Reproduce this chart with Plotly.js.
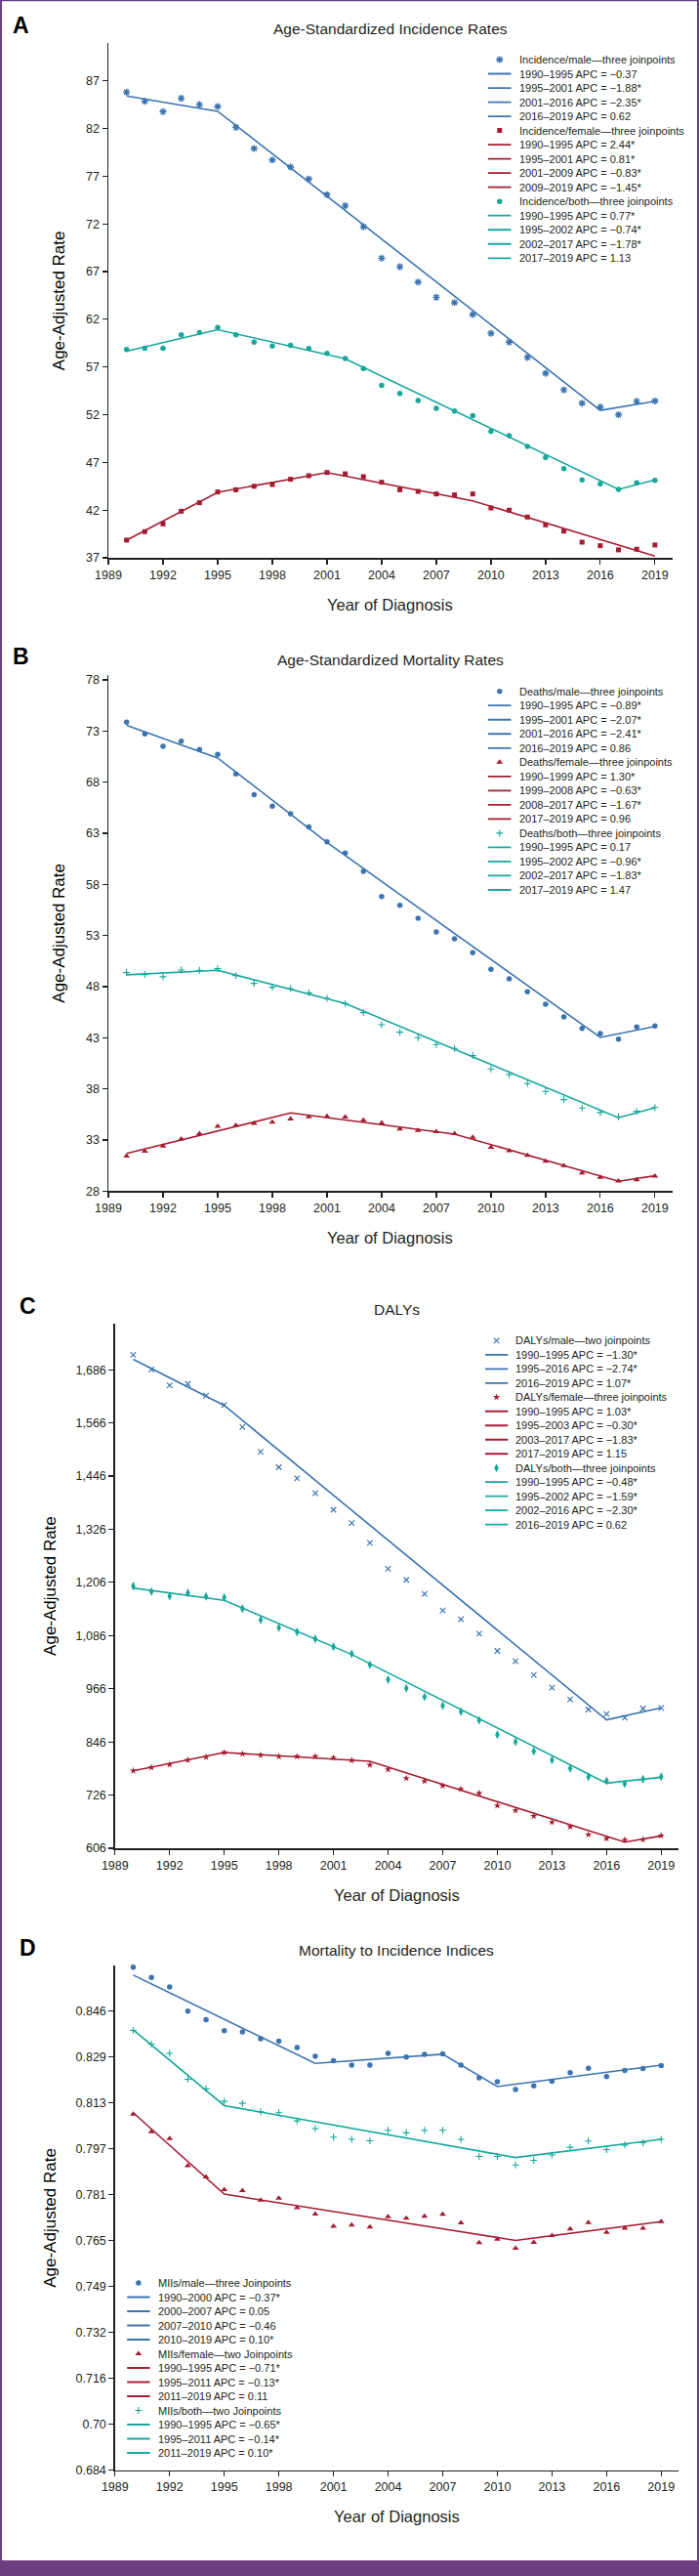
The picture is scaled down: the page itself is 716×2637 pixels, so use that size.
<!DOCTYPE html>
<html><head><meta charset="utf-8">
<script src="https://cdn.plot.ly/plotly-3.0.1.min.js"></script>
<style>html,body{margin:0;padding:0;background:#fff}#chart{width:716px;height:2637px}</style>
</head><body><div id="chart"></div>
<script>
// ---------- data ----------
const years = [1990,1991,1992,1993,1994,1995,1996,1997,1998,1999,2000,2001,2002,2003,2004,2005,2006,2007,2008,2009,2010,2011,2012,2013,2014,2015,2016,2017,2018,2019];
const xTickStart = 1989, xTickStep = 3;

// A: incidence
const incMale = [85.8,84.85,83.76,85.16,84.5,84.3,82.12,79.9,78.7,77.96,76.7,75.06,73.9,71.7,68.4,67.5,65.9,64.3,63.75,62.5,60.53,59.6,58.0,56.33,54.6,53.2,52.8,52.0,53.4,53.43];
const incMaleFitYears = [1990,1995,2001,2016,2019];
const incMaleFit = [85.4,83.8,74.9,52.45,53.4];
const incMaleAPC = ['\u22120.37','\u22121.88*','\u22122.35*','0.62'];
const incFemale = [38.85,39.74,40.55,41.88,42.77,43.9,44.13,44.5,44.68,45.23,45.6,45.94,45.8,45.5,44.92,44.13,43.96,43.69,43.59,43.69,42.22,41.99,41.27,40.45,39.8,38.64,38.27,37.83,37.9,38.34];
const incFemaleFitYears = [1990,1995,2001,2009,2019];
const incFemaleFit = [38.85,43.86,45.94,42.97,37.17];
const incFemaleAPC = ['2.44*','0.81*','\u22120.83*','\u22121.45*'];
const incBoth = [58.83,58.97,58.97,60.36,60.6,61.15,60.36,59.6,59.2,59.27,58.93,58.42,57.9,56.85,55.08,54.23,53.48,52.66,52.39,51.91,50.27,49.79,48.67,47.51,46.35,45.16,44.75,44.17,44.85,45.12];
const incBothFitYears = [1990,1995,2002,2017,2019];
const incBothFit = [58.66,60.91,57.87,44.17,45.16];
const incBothAPC = ['0.77*','\u22120.74*','\u22121.78*','1.13'];

// B: mortality
const deathMale = [73.86,72.71,71.5,72.01,71.18,70.71,68.8,66.76,65.64,64.91,63.61,62.17,61.06,59.27,56.82,55.96,54.69,53.35,52.68,51.31,49.69,48.76,47.49,46.28,45.04,43.92,43.41,42.87,44.05,44.15];
const deathMaleFitYears = [1990,1995,2001,2016,2019];
const deathMaleFit = [73.54,70.36,62.1,43.03,44.11];
const deathMaleAPC = ['\u22120.89*','\u22122.07*','\u22122.41*','0.86'];
const deathFemale = [31.41,31.89,32.4,33.1,33.61,34.34,34.43,34.62,34.75,35.04,35.26,35.32,35.23,34.94,34.66,34.08,33.92,33.8,33.61,33.25,32.27,31.95,31.5,30.93,30.48,29.78,29.34,28.99,29.11,29.46];
const deathFemaleFitYears = [1990,1999,2008,2017,2019];
const deathFemaleFit = [31.69,35.64,33.57,28.96,29.5];
const deathFemaleAPC = ['1.30*','\u22120.63*','\u22121.67*','0.96'];
const deathBoth = [49.37,49.18,48.96,49.62,49.59,49.75,49.08,48.32,47.94,47.81,47.39,46.85,46.34,45.45,44.27,43.54,43.0,42.33,41.95,41.25,39.94,39.4,38.51,37.75,36.95,36.12,35.68,35.26,35.8,36.18];
const deathBothFitYears = [1990,1995,2002,2017,2019];
const deathBothFit = [49.15,49.59,46.34,35.17,36.15];
const deathBothAPC = ['0.17','\u22120.96*','\u22121.83*','1.47'];

// C: DALYs
const dalyMale = [1719.7,1686.7,1650.9,1653.8,1627.5,1606.2,1556.5,1500.9,1465.8,1440.9,1407.2,1369.9,1339.9,1295.3,1236.7,1211.8,1180,1142.6,1122.8,1090.4,1051.4,1027.9,997,968.4,941.9,919.1,908.8,900.7,921.3,922.8];
const dalyMaleFitYears = [1990,1995,2016,2019];
const dalyMaleFit = [1709.4,1605.5,895.6,922.8];
const dalyMaleAPC = ['\u22121.30*','\u22122.74*','1.07*'];
const dalyFemale = [780.9,788.2,794.8,805.1,811.7,822,819,816.1,813.2,813.2,813.2,810.3,804.4,794.1,783.8,763.9,757.3,747,739.7,730.1,702.2,691.1,678.6,664.7,654.4,636.7,627.9,625,625.7,634.5];
const dalyFemaleFitYears = [1990,1995,2003,2017,2019];
const dalyFemaleFit = [780.9,822,802.2,619.8,633.8];
const dalyFemaleAPC = ['1.03*','\u22120.30*','\u22121.83*','1.15'];
const dalyBoth = [1197.8,1185.3,1175,1182.4,1174.2,1172,1147,1121.3,1103.6,1094.1,1078.6,1061,1044.8,1019.8,986.7,966.9,947.8,927.9,914,894.8,862.5,846.3,825,805.1,786,766.9,758.1,751.5,761.8,767.6];
const dalyBothFitYears = [1990,1995,2002,2016,2019];
const dalyBothFit = [1193.4,1165.4,1043.4,752.9,766.1];
const dalyBothAPC = ['\u22120.48*','\u22121.59*','\u22122.30*','0.62'];

// D: mortality to incidence indices
const miiMale = [0.8613,0.8577,0.8543,0.8458,0.8428,0.8389,0.8385,0.8361,0.8352,0.833,0.8299,0.8283,0.8268,0.8268,0.8309,0.8296,0.8306,0.8307,0.8268,0.8223,0.8209,0.8182,0.8195,0.8211,0.8241,0.8257,0.8227,0.8249,0.8256,0.8266];
const miiMaleFitYears = [1990,2000,2007,2010,2019];
const miiMaleFit = [0.8585,0.8274,0.8306,0.8192,0.8268];
const miiMaleAPC = ['\u22120.37*','0.05','\u22120.46','0.10*'];
const miiFemale = [0.8095,0.8033,0.8009,0.7913,0.7874,0.7829,0.7825,0.7792,0.7799,0.7765,0.7743,0.77,0.7704,0.7697,0.7733,0.7728,0.7735,0.7742,0.7712,0.7642,0.7654,0.7622,0.7643,0.7667,0.769,0.7713,0.7678,0.7693,0.7693,0.7716];
const miiFemaleFitYears = [1990,1995,2011,2019];
const miiFemaleFit = [0.81,0.7813,0.765,0.7716];
const miiFemaleAPC = ['\u22120.71*','\u22120.13*','0.11'];
const miiBoth = [0.839,0.8342,0.8309,0.8218,0.8184,0.814,0.8133,0.8103,0.81,0.8071,0.8044,0.8014,0.8006,0.8001,0.8038,0.8029,0.8038,0.8038,0.8006,0.7946,0.7946,0.7916,0.7932,0.7951,0.7978,0.8,0.797,0.7986,0.7994,0.8006];
const miiBothFitYears = [1990,1995,2011,2019];
const miiBothFit = [0.8392,0.8125,0.7942,0.8006];
const miiBothAPC = ['\u22120.65*','\u22120.14*','0.10*'];
const miiTickVals = [0.684,0.7002,0.7164,0.7326,0.7488,0.765,0.7812,0.7974,0.8136,0.8298,0.846];
const miiTickText = ['0.684','0.70','0.716','0.732','0.749','0.765','0.781','0.797','0.813','0.829','0.846'];

// ---------- styles ----------
const W = 716, H = 2637;
const BLUE = '#3b74b1', RED = '#a51c32', TEAL = '#17a79b', INK = '#231f20', PURPLE = '#6c3f7e';
const FONT = '"Liberation Sans", Arial, Helvetica, sans-serif';
const fx = px => px / W;
const fy = px => 1 - px / H;

const mk = {
  asterisk: c => ({symbol:'asterisk-open', size:6, color:c, line:{width:1.4, color:c}}),
  square: c => ({symbol:'square', size:5, color:c}),
  circle: c => ({symbol:'circle', size:5.5, color:c}),
  tri: c => ({symbol:'triangle-up', size:6, color:c}),
  cross: c => ({symbol:'cross-thin-open', size:5, color:c, line:{width:1.1, color:c}}),
  x: c => ({symbol:'x-thin-open', size:5.5, color:c, line:{width:1.2, color:c}}),
  star: c => ({symbol:'star', size:5.5, color:c}),
  diamond: c => ({symbol:'diamond-tall', size:6.5, color:c})
};

const panels = [
  {letter:'A', title:'Age-Standardized Incidence Rates',
   plot:{x0:111, x1:688.6, y0:44, y1:571}, yr:[37,90.96], ytick:{tickmode:'linear', tick0:37, dtick:5},
   letter_xy:[21.5,26.5], titleY:30, xTitleY:619, yTitleX:60.7,
   leg:{x:500, first:61, step:14.52},
   series:[
     {name:'Incidence/male\u2014three joinpoints', y:incMale, fy:incMaleFitYears, fv:incMaleFit, apc:incMaleAPC, color:BLUE, marker:mk.asterisk(BLUE)},
     {name:'Incidence/female\u2014three joinpoints', y:incFemale, fy:incFemaleFitYears, fv:incFemaleFit, apc:incFemaleAPC, color:RED, marker:mk.square(RED)},
     {name:'Incidence/both\u2014three joinpoints', y:incBoth, fy:incBothFitYears, fv:incBothFit, apc:incBothAPC, color:TEAL, marker:mk.circle(TEAL)}
   ]},
  {letter:'B', title:'Age-Standardized Mortality Rates',
   plot:{x0:111, x1:688.6, y0:690.7, y1:1219.3}, yr:[28,78.5], ytick:{tickmode:'linear', tick0:28, dtick:5},
   letter_xy:[21.5,672], titleY:675.7, xTitleY:1267, yTitleX:60.7,
   leg:{x:500, first:707.7, step:14.52},
   series:[
     {name:'Deaths/male\u2014three joinpoints', y:deathMale, fy:deathMaleFitYears, fv:deathMaleFit, apc:deathMaleAPC, color:BLUE, marker:mk.circle(BLUE)},
     {name:'Deaths/female\u2014three joinpoints', y:deathFemale, fy:deathFemaleFitYears, fv:deathFemaleFit, apc:deathFemaleAPC, color:RED, marker:mk.tri(RED)},
     {name:'Deaths/both\u2014three joinpoints', y:deathBoth, fy:deathBothFitYears, fv:deathBothFit, apc:deathBothAPC, color:TEAL, marker:mk.cross(TEAL)}
   ]},
  {letter:'C', title:'DALYs',
   plot:{x0:117.8, x1:695, y0:1355, y1:1892}, yr:[606,1790], ytick:{tickmode:'linear', tick0:606, dtick:120, tickformat:',d'},
   letter_xy:[28.3,1336.7], titleY:1340, xTitleY:1940, yTitleX:51.4,
   leg:{x:496.8, first:1372.3, step:14.49},
   series:[
     {name:'DALYs/male\u2014two joinpoints', y:dalyMale, fy:dalyMaleFitYears, fv:dalyMaleFit, apc:dalyMaleAPC, color:BLUE, marker:mk.x(BLUE)},
     {name:'DALYs/female\u2014three joinpoints', y:dalyFemale, fy:dalyFemaleFitYears, fv:dalyFemaleFit, apc:dalyFemaleAPC, color:RED, marker:mk.star(RED)},
     {name:'DALYs/both\u2014three joinpoints', y:dalyBoth, fy:dalyBothFitYears, fv:dalyBothFit, apc:dalyBothAPC, color:TEAL, marker:mk.diamond(TEAL)}
   ]},
  {letter:'D', title:'Mortality to Incidence Indices',
   plot:{x0:117.8, x1:695, y0:2011.7, y1:2528.7}, yr:[0.684,0.862], ytick:{tickmode:'array', tickvals:miiTickVals, ticktext:miiTickText},
   letter_xy:[28.3,1994], titleY:1996.7, xTitleY:2576, yTitleX:51.6,
   leg:{x:130.1, first:2337, step:14.5},
   series:[
     {name:'MIIs/male\u2014three Joinpoints', y:miiMale, fy:miiMaleFitYears, fv:miiMaleFit, apc:miiMaleAPC, color:BLUE, marker:mk.circle(BLUE)},
     {name:'MIIs/female\u2014two Joinpoints', y:miiFemale, fy:miiFemaleFitYears, fv:miiFemaleFit, apc:miiFemaleAPC, color:RED, marker:mk.tri(RED)},
     {name:'MIIs/both\u2014two Joinpoints', y:miiBoth, fy:miiBothFitYears, fv:miiBothFit, apc:miiBothAPC, color:TEAL, marker:mk.cross(TEAL)}
   ]}
];

// ---------- build ----------
const axisStyle = {showline:true, linecolor:INK, linewidth:1.5, ticks:'outside', ticklen:5, tickwidth:1.2, tickcolor:INK,
  showgrid:false, zeroline:false, fixedrange:true, tickfont:{family:FONT, size:12.5, color:INK}};
const layout = {width:W, height:H, margin:{l:0, r:0, t:0, b:0}, paper_bgcolor:'#fff', plot_bgcolor:'rgba(0,0,0,0)',
  showlegend:false, font:{family:FONT, color:INK}, annotations:[], shapes:[]};
const traces = [];
const LEG_W = 200, LINE_X1 = 23.5, MARK_X = 11.75, TEXT_X = 29.5;

panels.forEach((p, i) => {
  const n = i + 1, s = n === 1 ? '' : String(n);
  const ln = i + 5;
  layout['xaxis' + s] = Object.assign({}, axisStyle, {domain:[fx(p.plot.x0), fx(p.plot.x1)], range:[1989, 2019.95],
    anchor:'y' + s, tickmode:'linear', tick0:xTickStart, dtick:xTickStep});
  layout['yaxis' + s] = Object.assign({}, axisStyle, {domain:[fy(p.plot.y1), fy(p.plot.y0)], range:p.yr, anchor:'x' + s}, p.ytick);

  // data points + joinpoint fitted lines
  p.series.forEach(se => {
    traces.push({type:'scatter', mode:'markers', x:years, y:se.y, xaxis:'x' + s, yaxis:'y' + s, marker:se.marker, cliponaxis:false, hoverinfo:'skip'});
    traces.push({type:'scatter', mode:'lines', x:se.fy, y:se.fv, xaxis:'x' + s, yaxis:'y' + s, line:{color:se.color, width:1.6}, hoverinfo:'skip'});
  });

  // legend rows (drawn on a hidden helper axis so rows can be 14.5 px apart)
  const rows = [];
  p.series.forEach(se => {
    rows.push({kind:'marker', text:se.name, se});
    for (let k = 0; k < se.fy.length - 1; k++) {
      rows.push({kind:'line', text:se.fy[k] + '\u2013' + se.fy[k + 1] + ' APC = ' + se.apc[k], se});
    }
  });
  const nR = rows.length, top = p.leg.first - p.leg.step / 2;
  layout['xaxis' + ln] = {domain:[fx(p.leg.x), fx(p.leg.x + LEG_W)], range:[0, LEG_W], anchor:'y' + ln, visible:false, fixedrange:true};
  layout['yaxis' + ln] = {domain:[fy(top + nR * p.leg.step), fy(top)], range:[nR - 0.5, -0.5], anchor:'x' + ln, visible:false, fixedrange:true};
  rows.forEach((r, idx) => {
    if (r.kind === 'marker') {
      traces.push({type:'scatter', mode:'markers', x:[MARK_X], y:[idx], xaxis:'x' + ln, yaxis:'y' + ln, marker:r.se.marker, hoverinfo:'skip'});
    } else {
      traces.push({type:'scatter', mode:'lines', x:[0, LINE_X1], y:[idx, idx], xaxis:'x' + ln, yaxis:'y' + ln, line:{color:r.se.color, width:1.8}, hoverinfo:'skip'});
    }
    layout.annotations.push({xref:'x' + ln, yref:'y' + ln, x:TEXT_X, y:idx, text:r.text, showarrow:false, xanchor:'left', yanchor:'middle',
      font:{family:FONT, size:11, color:INK}});
  });

  // panel letter, title, axis titles
  layout.annotations.push({xref:'paper', yref:'paper', x:fx(p.letter_xy[0]), y:fy(p.letter_xy[1]), text:'<b>' + p.letter + '</b>', showarrow:false,
    xanchor:'center', yanchor:'middle', font:{family:FONT, size:23, color:'#000'}});
  layout.annotations.push({xref:'paper', yref:'paper', x:fx((p.plot.x0 + p.plot.x1) / 2), y:fy(p.titleY), text:p.title, showarrow:false,
    xanchor:'center', yanchor:'middle', font:{family:FONT, size:15.5, color:INK}});
  layout.annotations.push({xref:'paper', yref:'paper', x:fx((p.plot.x0 + p.plot.x1) / 2), y:fy(p.xTitleY), text:'Year of Diagnosis', showarrow:false,
    xanchor:'center', yanchor:'middle', font:{family:FONT, size:16.5, color:INK}});
  layout.annotations.push({xref:'paper', yref:'paper', x:fx(p.yTitleX), y:fy((p.plot.y0 + p.plot.y1) / 2), text:'Age-Adjusted Rate', showarrow:false,
    textangle:-90, xanchor:'center', yanchor:'middle', font:{family:FONT, size:17, color:'#000'}});
});

// page frame
layout.shapes.push({type:'line', xref:'paper', yref:'paper', x0:fx(1), x1:fx(1), y0:0, y1:1, line:{color:PURPLE, width:2}});
layout.shapes.push({type:'line', xref:'paper', yref:'paper', x0:fx(715), x1:fx(715), y0:0, y1:1, line:{color:PURPLE, width:2}});
layout.shapes.push({type:'line', xref:'paper', yref:'paper', x0:0, x1:1, y0:fy(0.5), y1:fy(0.5), line:{color:PURPLE, width:1.5}});
layout.shapes.push({type:'rect', xref:'paper', yref:'paper', x0:0, x1:1, y0:0, y1:fy(2621), fillcolor:PURPLE, line:{width:0}});

Plotly.newPlot('chart', traces, layout, {displayModeBar:false, staticPlot:true});
</script>
</body></html>
